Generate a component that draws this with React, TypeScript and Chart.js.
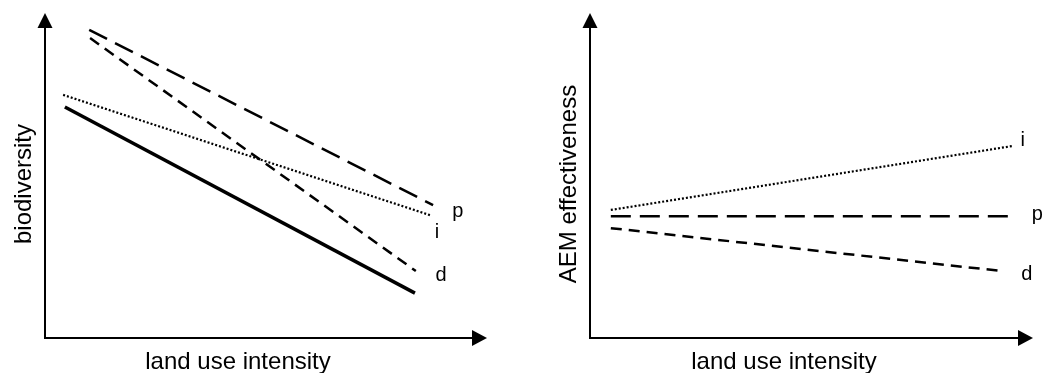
import React, { useEffect, useRef } from "react";
import { Chart, registerables } from "chart.js";

Chart.register(...registerables);

// Panel A: biodiversity vs land use intensity (x, y in arbitrary 0-100 units)
const aBaseline = [[4.5, 71.1], [83.7, 13.8]];
const aIntensity = [[4.1, 74.8], [87.1, 37.8]];
const aProportion = [[10.0, 94.8], [87.8, 40.9]];
const aDifference = [[10.2, 92.3], [83.9, 20.6]];
const aLabels = ["p", "i", "d"];
const aLabelPos = [[93.4, 38.8], [88.7, 32.6], [89.6, 19.1]];

// Panel B: AEM effectiveness vs land use intensity
const bIntensity = [[4.7, 39.4], [95.5, 59.1]];
const bProportion = [[4.7, 37.5], [95.5, 37.5]];
const bDifference = [[4.7, 33.8], [93.0, 20.6]];
const bLabels = ["i", "p", "d"];
const bLabelPos = [[97.7, 60.9], [101.0, 38.0], [98.6, 19.4]];

const xTitle = "land use intensity";
const aYTitle = "biodiversity";
const bYTitle = "AEM effectiveness";

const FONT = "'Liberation Sans', Arial, Helvetica, sans-serif";

const toPts = (arr: number[][]) => arr.map(([x, y]) => ({ x, y }));

function makeAxesPlugin(yTitle: string, labels: string[], labelPos: number[][], yTitleX: number, yTitleY: number, xTitleX: number) {
  return {
    id: "axesArrows",
    afterDraw(chart: any) {
      const ctx = chart.ctx;
      const { left, right, top, bottom } = chart.chartArea;
      const xs = chart.scales.x;
      const ys = chart.scales.y;
      ctx.save();
      ctx.strokeStyle = "#000";
      ctx.fillStyle = "#000";
      ctx.lineWidth = 2;
      ctx.setLineDash([]);
      // axes
      ctx.beginPath();
      ctx.moveTo(left, top + 12);
      ctx.lineTo(left, bottom);
      ctx.lineTo(right - 12, bottom);
      ctx.stroke();
      // y arrow
      ctx.beginPath();
      ctx.moveTo(left, top);
      ctx.lineTo(left - 7.5, top + 15);
      ctx.lineTo(left + 7.5, top + 15);
      ctx.closePath();
      ctx.fill();
      // x arrow
      ctx.beginPath();
      ctx.moveTo(right, bottom);
      ctx.lineTo(right - 15, bottom - 8);
      ctx.lineTo(right - 15, bottom + 8);
      ctx.closePath();
      ctx.fill();
      // titles
      ctx.font = `24px ${FONT}`;
      ctx.textAlign = "center";
      ctx.textBaseline = "alphabetic";
      ctx.fillText(xTitle, xTitleX, 369);
      ctx.save();
      ctx.translate(yTitleX, yTitleY);
      ctx.rotate(-Math.PI / 2);
      ctx.fillText(yTitle, 0, 0);
      ctx.restore();
      // line labels
      ctx.font = `20px ${FONT}`;
      ctx.textBaseline = "middle";
      labels.forEach((t, i) => {
        const [x, y] = labelPos[i];
        ctx.fillText(t, xs.getPixelForValue(x), ys.getPixelForValue(y));
      });
      ctx.restore();
    },
  };
}

function lineDs(points: number[][], width: number, dash: number[]) {
  return {
    data: toPts(points),
    borderColor: "#000",
    borderWidth: width,
    borderDash: dash,
    pointRadius: 0,
    fill: false,
    tension: 0,
    borderCapStyle: "butt",
  };
}

function Panel({ datasets, padding, plugin, style }: any) {
  const ref = useRef<HTMLCanvasElement | null>(null);
  useEffect(() => {
    if (!ref.current) return;
    const chart = new Chart(ref.current, {
      type: "line",
      data: { datasets },
      options: {
        animation: false,
        responsive: false,
        maintainAspectRatio: false,
        layout: { padding },
        plugins: { legend: { display: false }, tooltip: { enabled: false } },
        scales: {
          x: { type: "linear", min: 0, max: 100, display: false },
          y: { type: "linear", min: 0, max: 100, display: false },
        },
      },
      plugins: [plugin],
    } as any);
    return () => chart.destroy();
  }, []);
  return <canvas ref={ref} width={style.width} height={style.height} style={{ position: "absolute", ...style }} />;
}

export default function App() {
  const aDatasets = [
    lineDs(aBaseline, 3.5, []),
    lineDs(aIntensity, 2.2, [2, 2]),
    lineDs(aProportion, 2.5, [20, 9]),
    lineDs(aDifference, 2.5, [11, 7]),
  ];
  const bDatasets = [
    lineDs(bIntensity, 2.2, [2, 2]),
    lineDs(bProportion, 2.5, [20, 9]),
    lineDs(bDifference, 2.5, [11, 7]),
  ];
  const aPlugin = makeAxesPlugin(aYTitle, aLabels, aLabelPos, 31, 184, 238);
  const bPlugin = makeAxesPlugin(bYTitle, bLabels, bLabelPos, 576 - 520, 184, 784 - 520);
  return (
    <div style={{ position: "fixed", left: 0, top: 0, width: 1043, height: 373, background: "#fff", overflow: "hidden" }}>
      <Panel
        datasets={aDatasets}
        padding={{ left: 45, right: 33, top: 13, bottom: 35 }}
        plugin={aPlugin}
        style={{ left: 0, top: 0, width: 520, height: 373 }}
      />
      <Panel
        datasets={bDatasets}
        padding={{ left: 70, right: 10, top: 13, bottom: 35 }}
        plugin={bPlugin}
        style={{ left: 520, top: 0, width: 523, height: 373 }}
      />
    </div>
  );
}
